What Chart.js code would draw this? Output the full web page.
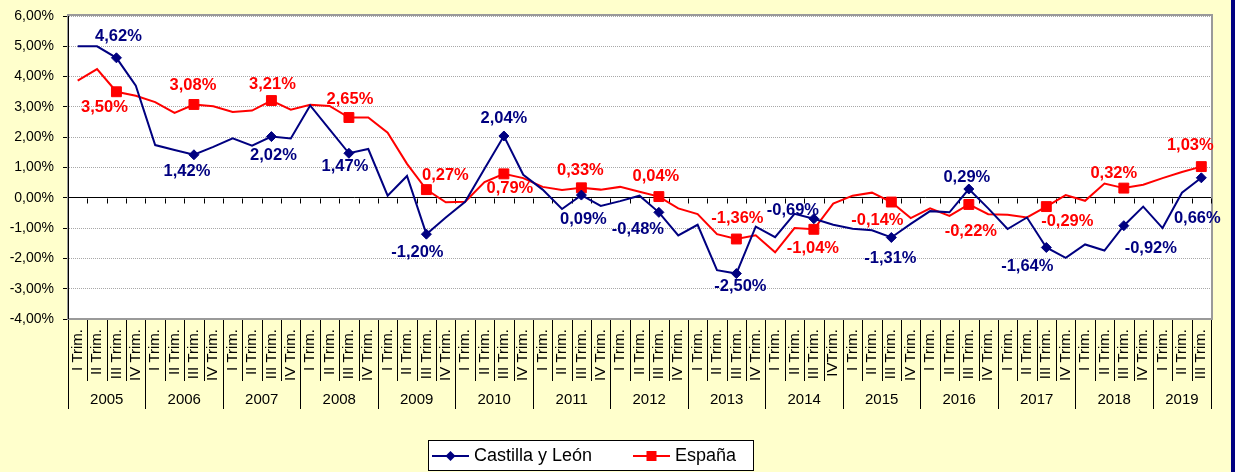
<!DOCTYPE html>
<html>
<head>
<meta charset="utf-8">
<script src="https://cdn.jsdelivr.net/npm/chart.js@4.4.1/dist/chart.umd.min.js"></script>
<style>
    html, body { margin: 0; padding: 0; background: #ffffcc; }
    canvas { display: block; }
</style>
</head>
<body>
<canvas id="chart" width="1235" height="472"></canvas>
<script>
// datos
const years = ['2005', '2006', '2007', '2008', '2009', '2010', '2011', '2012',
               '2013', '2014', '2015', '2016', '2017', '2018', '2019'];
const quarterNames = ['I Trim.', 'II Trim.', 'III Trim.', 'IV Trim.'];

// 2005 I Trim. ... 2019 III Trim.
const castillaLeon = [
    5.00, 5.00, 4.62, 3.70,   1.74, 1.58, 1.42, 1.68,   1.96, 1.72, 2.02, 1.96,
    3.05, 2.26, 1.47, 1.61,   0.07, 0.72, -1.20, -0.65, -0.13, 0.96, 2.04, 0.76,
    0.27, -0.37, 0.09, -0.27, -0.11, 0.07, -0.48, -1.24, -0.89, -2.39, -2.50, -0.95,
    -1.30, -0.53, -0.69, -0.89, -1.02, -1.07, -1.31, -0.86, -0.44, -0.48, 0.29, -0.35,
    -1.03, -0.65, -1.64, -1.98, -1.54, -1.74, -0.92, -0.29, -1.00, 0.17, 0.66
];
const espana = [
    3.87, 4.25, 3.50, 3.37,   3.16, 2.80, 3.08, 3.02,   2.83, 2.88, 3.21, 2.91,
    3.07, 3.03, 2.65, 2.65,   2.15, 1.12, 0.27, -0.15,  -0.13, 0.52, 0.79, 0.65,
    0.36, 0.26, 0.33, 0.27,   0.36, 0.20, 0.04, -0.35,  -0.54, -1.20, -1.36, -1.24,
    -1.80, -1.00, -1.04, -0.19, 0.07, 0.17, -0.14, -0.67, -0.35, -0.60, -0.22, -0.54,
    -0.56, -0.65, -0.29, 0.09, -0.10, 0.47, 0.32, 0.43, 0.65, 0.85, 1.03
];

const yMin = -4;
const yMax = 6;
const yStep = 1;

// categorías (el IV trim. de 2014 sale sin espacio en el original)
const categories = [];
years.forEach(y => quarterNames.forEach(q => categories.push(q)));
categories.length = castillaLeon.length;
categories[39] = 'IVTrim.';

// desplazamiento de etiquetas respecto al marcador (px)
const cylLabelPos = [[2, -21], [-7, 17], [2, 19], [-4, 13], [-9, 18], [0, -18], [2, 24], [-21, 17],
                     [4, 13], [-21, -8], [-1, 21], [-2, -12], [-19, 19], [27, 23], [-4, 41]];
const espLabelPos = [[-12, 16], [-1, -19], [1, -16], [1, -18], [19, -14], [6, 15], [-1, -17], [-3, -20],
                     [1, -21], [-1, 19], [-14, 18], [2, 27], [21, 15], [-10, -15], [-11, -21]];

const NAVY = '#000080';
const RED = '#ff0000';
const FONT = '"Liberation Sans", Arial, sans-serif';

const isMarked = i => i % 4 === 2;
const fmt = v => v.toFixed(2).replace('.', ',') + '%';

// fondo blanco del área, borde gris y marcas del eje en 0
const plotFrame = {
    id: 'plotFrame',
    beforeDraw(chart) {
        const { ctx, chartArea: a } = chart;
        ctx.save();
        ctx.fillStyle = '#ffffff';
        ctx.fillRect(a.left, a.top, a.right - a.left, a.bottom - a.top);
        ctx.restore();
    },
    beforeDatasetsDraw(chart) {
        const { ctx, chartArea: a, scales: { x, y } } = chart;
        ctx.save();
        ctx.strokeStyle = '#9a9a9a';
        ctx.lineWidth = 2;
        ctx.strokeRect(a.left, a.top - 1, a.right - a.left + 1, a.bottom - a.top + 1);
        ctx.strokeStyle = '#000';
        ctx.lineWidth = 1;
        ctx.beginPath();
        ctx.moveTo(a.left + 0.5, a.top);
        ctx.lineTo(a.left + 0.5, a.bottom);
        const y0 = Math.round(y.getPixelForValue(0)) + 0.5;
        const w = x.getPixelForValue(1) - x.getPixelForValue(0);
        for (let i = 0; i <= categories.length; i++) {
            const px = Math.round(x.getPixelForValue(0) - w / 2 + i * w) + 0.5;
            ctx.moveTo(px, y0);
            ctx.lineTo(px, y0 + 5);
        }
        ctx.stroke();
        ctx.restore();
    },
    afterDatasetsDraw(chart) {
        const { ctx } = chart;
        ctx.save();
        ctx.font = 'bold 16.5px ' + FONT;
        ctx.textAlign = 'center';
        ctx.textBaseline = 'middle';
        [[0, castillaLeon, cylLabelPos, NAVY], [1, espana, espLabelPos, RED]].forEach(([d, vals, pos, col]) => {
            const pts = chart.getDatasetMeta(d).data;
            ctx.fillStyle = col;
            let k = 0;
            vals.forEach((v, i) => {
                if (!isMarked(i)) return;
                const [dx, dy] = pos[k++];
                ctx.fillText(fmt(v), pts[i].x + dx, pts[i].y + dy);
            });
        });
        ctx.restore();
    },
    afterDraw(chart) {
        const { ctx, chartArea: a, scales: { x } } = chart;
        const w = x.getPixelForValue(1) - x.getPixelForValue(0);
        const start = x.getPixelForValue(0) - w / 2;
        ctx.save();
        // separadores de trimestres y años
        ctx.strokeStyle = '#000';
        ctx.lineWidth = 1;
        ctx.beginPath();
        for (let i = 0; i <= categories.length; i++) {
            const px = Math.round(start + i * w) + 0.5;
            const yearEdge = i % 4 === 0 || i === categories.length;
            ctx.moveTo(px, a.bottom + 1);
            ctx.lineTo(px, yearEdge ? a.bottom + 90 : a.bottom + 62);
        }
        ctx.stroke();
        ctx.fillStyle = '#000';
        ctx.font = '15px ' + FONT;
        ctx.textAlign = 'center';
        ctx.textBaseline = 'middle';
        years.forEach((yr, k) => {
            const i0 = k * 4;
            const i1 = Math.min(i0 + 4, categories.length);
            ctx.fillText(yr, start + (i0 + i1) / 2 * w, a.bottom + 81);
        });

        // leyenda
        const lx = 428, ly = 440, lw = 325, lh = 31;
        ctx.fillStyle = '#fff';
        ctx.fillRect(lx, ly, lw, lh);
        ctx.strokeStyle = '#000';
        ctx.strokeRect(lx + 0.5, ly + 0.5, lw, lh - 1);
        const cy = ly + 16;
        const items = [
            { label: 'Castilla y León', color: NAVY, shape: 'diamond', x0: 432 },
            { label: 'España', color: RED, shape: 'square', x0: 633 }
        ];
        items.forEach(it => {
            ctx.strokeStyle = it.color;
            ctx.fillStyle = it.color;
            ctx.lineWidth = 2;
            ctx.beginPath();
            ctx.moveTo(it.x0, cy);
            ctx.lineTo(it.x0 + 37, cy);
            ctx.stroke();
            const mx = it.x0 + 18.5;
            ctx.beginPath();
            if (it.shape === 'diamond') {
                ctx.moveTo(mx, cy - 5); ctx.lineTo(mx + 5, cy); ctx.lineTo(mx, cy + 5); ctx.lineTo(mx - 5, cy);
            } else {
                ctx.rect(mx - 5, cy - 5, 10, 10);
            }
            ctx.closePath();
            ctx.fill();
            ctx.fillStyle = '#000';
            ctx.font = '18px ' + FONT;
            ctx.textAlign = 'left';
            ctx.fillText(it.label, it.x0 + 42, cy);
        });

        // borde azul a la derecha
        ctx.fillStyle = NAVY;
        ctx.fillRect(1231, 0, 4, 472);
        ctx.restore();
    }
};

new Chart(document.getElementById('chart'), {
    type: 'line',
    data: {
        labels: categories,
        datasets: [{
            label: 'Castilla y León',
            data: castillaLeon,
            borderColor: NAVY,
            backgroundColor: NAVY,
            borderWidth: 2,
            pointStyle: 'rectRot',
            pointRadius: c => isMarked(c.dataIndex) ? 5 : 0,
            pointBorderWidth: 1,
            tension: 0
        }, {
            label: 'España',
            data: espana,
            borderColor: RED,
            backgroundColor: RED,
            borderWidth: 2,
            pointStyle: 'rect',
            pointRadius: c => isMarked(c.dataIndex) ? 7 : 0,
            pointBorderWidth: 1,
            tension: 0
        }]
    },
    options: {
        responsive: false,
        animation: false,
        devicePixelRatio: 1,
        layout: { padding: { top: 4, right: 24, left: 0, bottom: 0 } },
        plugins: {
            legend: { display: false },
            tooltip: { enabled: false }
        },
        scales: {
            x: {
                offset: true,
                grid: { display: false, drawTicks: false },
                border: { display: false },
                ticks: {
                    autoSkip: false,
                    minRotation: 90,
                    maxRotation: 90,
                    padding: 10,
                    color: '#000',
                    font: { family: FONT, size: 15 }
                },
                afterFit: s => { s.height = 153; }
            },
            y: {
                min: yMin,
                max: yMax,
                ticks: {
                    stepSize: yStep,
                    color: '#000',
                    padding: 9,
                    font: { family: FONT, size: 14, lineHeight: 1 },
                    callback: v => fmt(v)
                },
                grid: {
                    color: c => c.tick && c.tick.value === 0 ? '#000' : '#a8a8a8',
                    lineWidth: 1,
                    tickLength: 5,
                    tickColor: '#000'
                },
                border: {
                    display: true,
                    color: '#000',
                    dash: c => c.tick && c.tick.value !== 0 ? [1, 1] : []
                },
                afterFit: s => { s.width = 68; }
            }
        }
    },
    plugins: [plotFrame]
});
</script>
</body>
</html>
